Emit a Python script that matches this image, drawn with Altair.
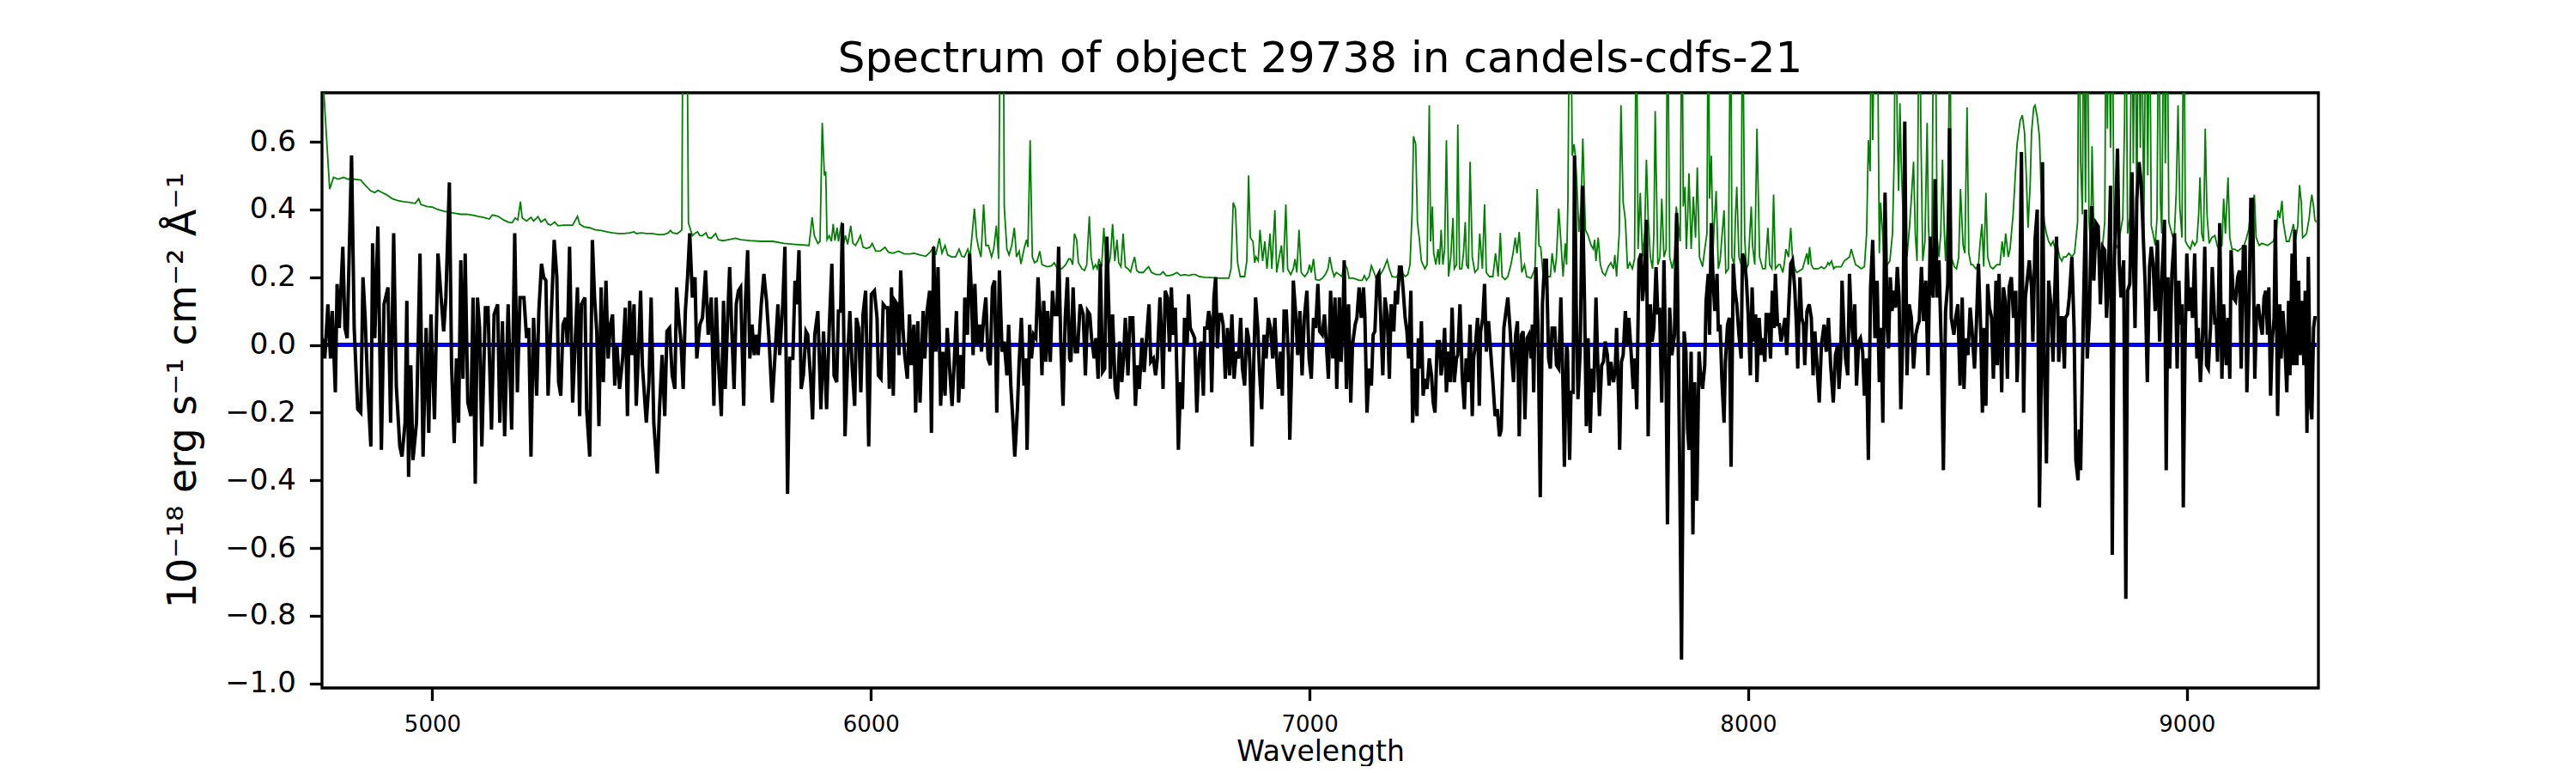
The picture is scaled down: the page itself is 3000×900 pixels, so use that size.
import altair as alt
import pandas as pd

# ---- object spectrum (black) : wavelength [A], flux [1e-18 erg/s/cm2/A] ----
obj_wave = [
 4749,4755,4762,4768,4772,4779,4783,4788,4796,4801,4806,4816,4822,4830,4837,4842,4847,4853,4860,4864,
 4869,4876,4884,4890,4899,4905,4912,4918,4926,4931,4938,4942,4946,4951,4956,4964,4972,4979,4986,4992,
 4997,5005,5013,5019,5026,5031,5039,5044,5050,5055,5060,5065,5070,5075,5081,5088,5093,5098,5103,5108,
 5113,5121,5127,5135,5141,5149,5154,5160,5165,5173,5181,5188,5194,5200,5209,5215,5220,5225,5231,5238,
 5243,5249,5254,5259,5264,5271,5278,5284,5288,5293,5298,5304,5308,5313,5320,
 5325,5331,5336,5340,5348,5352,5359,5365,5370,5375,5380,5385,5390,5396,5401,5406,5411,5416,5421,5427,
 5434,5440,5445,5450,5455,5460,5465,5470,5475,5479,5488,5494,5499,5505,5513,5518,5524,5530,5535,5541,
 5547,5553,5557,5562,5567,5572,5577,5582,5587,5593,5599,5603,5610,5616,5623,5629,5636,5642,5647,5652,
 5659,5664,5668,5674,5678,5683,5688,5693,5698,5703,5710,5714,5719,5724,5729,5734,5739,5743,5750,5756,
 5762,5768,5775,5781,5788,5792,5799,5804,5810,5815,5822,5827,5831,5836,5841,5846,5852,5856,5863,5867,
 5872,5879,5886,
 5892,5899,5905,5911,5916,5922,5926,5931,5935,5941,5947,5952,5957,5963,5967,5972,5977,5982,5988,5995,
 6001,6008,6014,6017,6023,6028,6034,6038,6042,6047,6051,6055,6060,6064,6068,6073,6077,6083,6088,6092,
 6098,6102,6107,6112,6119,6123,6128,6134,6138,6143,6148,6153,6159,6164,6169,6174,6179,6185,6190,6195,
 6200,6205,6210,6214,6220,6225,6229,6233,6237,6242,6248,6252,6257,6262,6267,6272,6277,6282,6287,6293,
 6299,6304,6310,6314,6319,6324,6328,6334,6338,6343,6349,6353,6356,6362,6366,6371,6376,6381,6386,6390,
 6394,6399,6403,6409,6414,6418,6424,6428,6433,6438,6443,6448,6453,
 6456,6461,6466,6471,6477,6484,6489,6494,6499,6503,6509,6513,6518,6523,6528,6533,6538,6543,6546,6551,
 6557,6562,6567,6572,6576,6580,6586,6591,6597,6603,6608,6612,6618,6623,6629,6634,6638,6644,6649,6653,
 6659,6663,6666,6671,6676,6681,6685,6689,6694,6698,6701,6706,6710,6715,6721,6724,6728,6735,6738,6743,
 6748,6753,6758,6761,6766,6770,6773,6777,6782,6786,6790,6794,6799,6803,6808,6813,6818,6823,6828,6833,
 6838,6843,6847,6852,6857,6861,6864,6869,6873,6877,6882,6886,6891,6896,6901,6906,6911,6916,6921,6925,
 6929,6934,6938,6942,6947,6952,6955,6960,6963,6968,6973,6978,6983,6988,6994,6999,7004,7009,7014,7019,
 7023,7029,7034,7038,7043,7048,7053,7058,7062,7068,7072,7076,7079,7084,7089,7094,7098,7104,7108,7113,
 7118,7123,7126,7131,7136,7141,7145,7149,7154,7158,7162,7167,7172,7177,7182,7186,7192,7196,7200,7205,
 7209,7213,7218,7222,7226,7231,7235,7240,7245,7248,7252,7255,7259,7263,7268,7273,7278,7282,7286,7291,
 7296,7300,7304,7308,7312,7317,7321,7325,7330,7335,7338,7343,7348,7353,7357,7361,7366,7371,7374,7379,
 7383,7387,7390,7395,7399,7403,7408,7413,7418,7423,7428,7433,7437,7443,7447,7452,7457,7461,7465,7470,
 7474,7478,7483,7487,7491,7496,7500,7505,7508,7511,7516,7521,7526,7531,7536,7540,7545,7549,7553,7559,
 7563,7568,7573,7578,7581,7586,
 7588,7593,7596,7601,7604,7608,7612,7617,7622,7627,7631,7635,7640,7644,7648,7653,7657,7661,7666,7670,
 7674,7679,7683,7687,7693,7697,7700,7705,7707,7711,7715,7720,7725,7728,7733,7738,7742,7746,7751,7756,
 7759,7764,7768,7772,7777,7781,7785,7790,7794,7798,7803,7808,7813,7816,7821,7826,7832,7837,7844,7848,
 7854,7858,7862,7865,7870,7874,7878,7883,7888,7891,7896,7901,7904,7909,7912,7916,7920,7924,7929,7932,
 7936,7940,7945,7948,7953,7957,7961,7966,7970,7974,7979,7984,7987,7992,7996,8000,8005,8009,8013,8017,
 8020,8025,8030,8033,8038,8041,8046,8051,8055,8059,8062,8067,8071,8075,8079,8084,8088,8093,8097,8101,
 8106,8110,8113,8118,8122,8126,8129,8134,8139,8144,8148,
 8152,8156,8162,8167,8173,8178,8183,8188,8194,8199,8204,8207,8211,8214,8219,8222,8227,8231,8235,8240,
 8243,8247,8252,8256,8261,8265,8270,8274,8279,8284,8289,8294,8299,8303,8307,8312,8317,8320,8324,8328,
 8332,8336,8340,8344,8348,8353,8357,8362,8367,8372,8377,8382,8387,8390,8395,8400,8405,8410,8415,8418,
 8422,8426,8431,8435,8441,8445,8450,8455,8459,8463,8469,8473,8478,8483,8488,8492,8496,8501,8506,8510,
 8516,8520,8525,8530,8534,8538,8542,8546,8550,8555,8559,8565,8568,8572,8578,8582,8586,8591,8595,8600,
 8605,8610,8613,8619,8623,8628,8632,8636,8641,8646,8649,8654,8659,8664,8668,8671,8675,8680,8685,8690,
 8695,8698,8703,8708,8713,8716,8721,
 8723,8728,8732,8738,8743,8747,8752,8755,8758,8764,8769,8773,8778,8783,8788,8793,8798,8803,8808,8813,
 8817,8821,8826,8830,8835,8842,8846,8850,8856,8861,8865,8870,8875,8878,8882,8886,8891,8896,8901,8905,
 8910,8915,8919,8923,8928,8933,8938,8943,8949,8953,8957,8961,8966,8972,8978,8982,8985,8989,8992,8996,
 9000,9005,9009,9013,9018,9023,9026,9031,9036,9041,9045,9049,9054,9058,9064,9067,9070,9075,9080,9084,
 9090,9094,9098,9101,9106,9111,9116,9120,9124,9129,9133,9137,9142,9146,9150,9155,9159,9163,9168,9172,
 9176,9180,9184,9187,9191,9195,9199,9202,9207,9212,9215,9219,9223,9228,9232,9235,9240,9243,9246,9251,
 9255,9258,9262,9267,9270,9274,9277,9282,9285,9289,9292,9296,
]
obj_flux = [
 0.02,-0.04,0.12,-0.04,0.10,-0.14,0.18,0.05,0.29,0.05,0.02,0.56,0.05,-0.19,-0.20,0.20,0.08,-0.13,-0.30,0.30,
 0.02,0.35,-0.31,0.12,0.17,-0.23,0.33,-0.12,-0.30,-0.33,-0.23,0.13,-0.39,-0.06,-0.34,-0.23,0.27,-0.33,0.05,-0.26,
 0.09,-0.22,0.27,0.16,0.04,0.14,0.48,-0.06,-0.29,-0.04,-0.23,0.25,-0.10,0.27,-0.17,-0.21,0.14,-0.41,0.14,0.05,
 -0.30,0.11,0.11,-0.25,0.09,0.12,-0.23,0.07,-0.27,0.12,-0.25,0.33,-0.14,0.14,0.14,0.02,0.05,-0.33,0.08,-0.15,
 0.10,0.24,0.20,0.19,-0.15,0.08,0.31,0.20,-0.11,-0.15,0.06,0.08,0.00,0.29,-0.17,
 -0.02,0.17,-0.21,0.12,0.14,-0.19,-0.33,0.31,0.14,0.04,-0.24,0.17,-0.11,0.19,-0.04,0.06,0.09,-0.12,0.00,-0.13,
 -0.04,0.11,-0.21,0.13,-0.03,0.12,-0.18,-0.02,0.16,-0.06,-0.23,-0.11,0.14,-0.23,-0.38,-0.19,-0.03,-0.21,0.04,0.05,
 -0.09,-0.13,0.17,0.08,0.01,-0.13,0.10,0.20,0.33,0.14,0.20,-0.04,0.06,0.08,0.22,0.03,0.14,-0.18,0.14,-0.04,
 -0.21,0.13,-0.13,0.10,0.23,0.04,-0.13,0.12,0.16,0.17,-0.18,0.13,0.28,-0.04,0.06,-0.03,0.03,-0.03,0.12,0.21,
 0.13,0.01,-0.17,-0.04,0.12,-0.03,0.12,0.29,-0.44,-0.04,-0.04,0.19,0.12,0.28,-0.13,-0.09,0.04,0.03,-0.11,-0.22,
 0.03,0.10,-0.19,
 0.04,-0.19,0.05,0.24,-0.09,-0.11,0.10,0.10,0.36,-0.27,-0.04,0.10,-0.06,-0.18,0.08,0.05,-0.14,0.09,0.16,-0.30,
 0.15,0.16,0.08,-0.09,-0.10,0.12,0.11,0.11,-0.13,0.17,-0.15,0.13,0.12,-0.03,0.22,0.05,-0.03,-0.10,0.09,-0.06,
 0.06,-0.20,0.07,-0.17,0.10,-0.04,0.10,0.16,-0.26,0.29,-0.02,0.23,-0.18,-0.02,-0.15,0.05,-0.06,-0.18,-0.05,0.10,
 -0.17,-0.03,-0.13,0.14,0.03,0.27,0.16,-0.03,0.18,0.00,0.06,-0.02,0.08,0.14,-0.04,-0.06,0.17,0.19,-0.20,0.22,
 -0.02,0.01,-0.09,0.06,-0.12,-0.23,-0.33,-0.19,-0.05,0.08,-0.12,-0.04,-0.31,0.06,-0.04,0.03,0.02,0.20,0.08,-0.09,
 0.13,-0.05,0.10,-0.05,0.16,0.09,0.09,0.29,0.00,-0.18,0.08,0.20,-0.04,
 -0.05,0.17,-0.02,-0.02,0.12,0.09,-0.09,0.10,0.09,0.02,-0.04,0.02,-0.10,0.24,-0.08,-0.07,0.32,0.08,-0.10,0.09,
 -0.13,-0.16,0.01,-0.11,-0.04,0.08,-0.09,0.08,0.08,-0.18,-0.06,-0.13,0.02,-0.08,0.03,0.12,-0.05,-0.04,-0.09,-0.04,
 0.14,0.01,-0.13,0.16,0.14,-0.02,0.17,0.03,0.11,-0.11,-0.31,-0.11,-0.19,0.08,0.00,0.15,0.05,0.03,0.02,-0.20,
 -0.04,0.01,-0.15,0.05,0.05,0.10,0.08,-0.14,0.14,0.20,-0.01,0.09,0.09,0.06,-0.10,0.05,-0.09,0.09,-0.10,-0.02,
 -0.04,0.08,-0.07,-0.12,0.05,0.02,-0.06,-0.30,-0.04,0.14,0.05,-0.08,-0.19,0.03,-0.04,0.08,0.05,-0.04,0.08,-0.04,
 -0.13,-0.02,-0.15,0.10,0.10,-0.04,-0.28,-0.04,0.19,0.10,-0.03,0.10,-0.09,0.08,0.16,-0.04,-0.10,0.08,0.05,0.18,
 0.04,0.03,0.09,0.01,-0.10,0.16,-0.04,0.14,-0.13,0.14,-0.05,0.07,0.25,-0.13,0.12,-0.17,0.00,0.06,0.08,0.17,
 0.08,0.17,0.09,-0.20,-0.07,-0.12,0.03,0.04,0.20,0.21,0.09,-0.09,0.14,0.09,-0.10,0.12,0.04,0.16,0.12,0.23,
 0.23,0.17,0.08,0.04,-0.04,0.16,-0.23,-0.07,-0.21,0.02,-0.07,0.07,-0.15,-0.10,-0.13,-0.04,-0.09,-0.17,-0.20,0.01,
 0.01,-0.09,-0.04,0.05,-0.14,-0.02,-0.11,0.11,-0.11,-0.04,-0.03,0.12,-0.09,-0.19,-0.04,-0.11,0.06,-0.21,-0.04,0.01,
 0.08,-0.18,0.04,0.08,0.18,-0.02,0.07,-0.02,-0.11,-0.21,-0.19,-0.27,-0.25,0.05,0.09,0.14,0.05,-0.04,-0.11,0.03,
 0.07,-0.27,0.03,0.04,-0.22,0.02,0.03,-0.04,0.06,-0.14,0.23,0.05,-0.45,0.12,0.25,0.25,-0.04,-0.07,0.05,0.05,
 -0.06,-0.07,0.14,-0.13,-0.36,0.00,
 -0.02,-0.34,-0.14,-0.14,0.56,0.12,-0.16,-0.02,0.47,0.12,-0.24,0.02,-0.26,-0.07,-0.14,0.14,-0.05,-0.21,-0.06,-0.05,
 0.01,-0.03,-0.12,-0.05,-0.11,-0.07,0.05,-0.17,-0.31,-0.05,-0.03,0.10,0.00,0.08,-0.02,-0.13,-0.04,-0.19,0.25,0.27,
 0.13,0.20,0.37,-0.27,0.12,0.01,0.05,0.23,0.09,0.11,-0.17,0.25,-0.12,-0.53,0.11,-0.03,0.03,0.39,-0.38,-0.93,
 0.04,-0.02,-0.25,-0.31,-0.02,-0.56,-0.11,-0.46,-0.02,-0.08,-0.13,-0.06,0.13,0.21,0.03,0.36,0.19,0.10,0.21,0.04,
 0.06,-0.10,-0.23,-0.05,0.06,0.08,-0.36,0.24,0.16,0.12,0.03,-0.04,0.27,0.25,0.19,0.09,-0.09,0.17,0.01,0.09,
 -0.11,0.08,-0.03,0.02,-0.05,0.09,0.09,-0.04,0.16,0.05,0.21,0.06,0.06,0.01,0.04,0.08,-0.03,0.13,0.24,0.25,
 0.17,0.06,-0.07,0.20,0.08,0.06,-0.06,0.10,0.12,0.08,-0.09,
 0.04,-0.04,-0.17,0.00,0.06,-0.02,0.08,-0.06,-0.17,-0.03,0.00,-0.13,-0.04,0.19,0.02,-0.04,-0.09,0.21,0.08,0.00,
 0.12,-0.12,0.01,0.02,-0.02,-0.15,-0.04,-0.34,0.17,0.31,0.02,0.19,-0.11,0.05,-0.23,0.45,0.05,-0.01,0.20,0.10,
 0.16,0.11,0.23,0.14,-0.19,0.05,0.66,-0.09,0.12,0.08,-0.07,0.03,0.06,0.07,0.23,0.07,0.19,-0.09,0.32,0.17,
 0.14,0.49,0.14,0.25,-0.04,-0.37,0.10,0.18,0.64,0.08,0.03,0.08,0.12,-0.12,0.14,-0.13,0.02,-0.03,0.11,0.05,
 -0.07,0.05,0.24,0.05,-0.20,0.05,-0.18,0.18,0.11,0.08,-0.10,0.19,-0.06,0.21,-0.14,0.17,0.13,-0.10,0.17,0.20,
 0.08,0.16,-0.11,0.11,0.57,-0.20,0.14,0.19,0.25,0.17,0.01,0.31,0.40,-0.48,-0.11,0.54,-0.03,-0.35,0.19,0.12,
 -0.05,0.12,0.32,-0.05,0.08,0.08,-0.07,
 0.08,0.09,0.14,0.26,0.05,-0.34,-0.40,-0.25,-0.37,0.08,0.40,-0.04,0.08,0.41,0.19,0.36,0.35,0.12,0.29,0.28,
 0.08,0.19,0.47,-0.62,0.25,0.58,0.24,0.14,0.25,-0.75,0.16,0.18,0.51,0.27,0.05,0.43,0.54,0.48,0.31,0.18,
 -0.11,0.23,0.29,0.24,0.10,0.31,0.01,0.19,0.37,-0.37,0.20,-0.07,0.21,0.33,-0.07,0.19,0.06,0.12,-0.48,0.00,
 0.27,0.10,0.17,0.08,0.27,-0.04,0.05,-0.11,0.03,0.29,-0.06,-0.07,0.05,0.23,0.06,0.08,-0.05,0.36,-0.10,0.12,
 -0.06,0.08,-0.10,0.28,0.14,0.13,0.20,0.22,-0.07,0.29,0.29,-0.14,0.13,0.43,0.43,-0.10,0.10,0.12,0.06,0.03,
 0.14,0.16,0.03,0.17,-0.15,0.02,0.08,0.37,-0.21,0.12,-0.04,0.10,0.02,-0.14,0.13,-0.09,0.27,-0.06,0.34,-0.06,
 0.19,-0.03,0.13,-0.06,0.16,-0.26,0.26,-0.18,-0.22,0.05,0.08,0.08,
]

# ---- sky / noise spectrum (green) ----
sky_wave = [
 4749,4753,4766,4775,4785,4798,4807,4820,4837,4847,4860,4869,4876,4886,4895,4909,4922,4935,4948,4961,
 4969,4974,4987,5000,5013,5026,5039,5052,5065,5078,5091,5104,5117,5130,5137,5150,5163,5173,5182,5189,
 5195,5201,5205,5215,5225,5231,5241,5248,5257,5264,5270,5279,5287,5300,5313,
 5320,5331,5336,5346,5359,5372,5385,5398,5411,5424,5437,5450,5460,5466,5476,5489,5502,5515,5528,5538,
 5543,5548,5558,5564,5569,5573,5578,5584,5593,5600,5605,5610,5616,5624,5629,5636,5646,5652,5662,5675,
 5691,5704,5724,5750,5776,5802,5828,5859,5866,5871,5879,5884,5889,
 5894,5897,5900,5905,5910,5914,5918,5923,5926,5933,5938,5942,5947,5954,5959,5965,5970,5976,5982,5990,
 5998,6003,6011,6021,6032,6040,6050,6063,6076,6089,6099,6112,6125,6135,6143,6148,6156,6162,6169,6175,
 6184,6193,6201,6207,6213,6221,6226,6231,6236,6241,6246,6251,6257,6262,6268,6275,6280,6286,6291,6296,
 6301,6304,6310,6315,6321,6327,6332,6338,6342,6350,6355,6358,6363,6368,6373,6379,6385,6390,6402,6412,
 6418,6425,6435,6444,6451,
 6455,6460,6464,6469,6473,6481,6487,6492,6498,6502,6507,6512,6516,6520,6526,6531,6536,6541,6546,6551,
 6556,6561,6565,6570,6575,6580,6586,6592,6596,6601,6606,6612,6621,6627,6633,6640,6650,6660,6666,6673,
 6681,6689,6698,6706,6715,6725,6732,6740,6748,6761,6774,6794,6816,6821,6826,6831,6836,6842,6852,6857,
 6861,6865,6871,6875,6878,6883,6887,6893,6898,6903,6910,6914,6921,6925,6931,6936,6940,6946,6950,6957,
 6963,6967,6971,6976,6981,6989,6996,7000,7004,7009,7014,
 7022,7029,7036,7042,7046,7051,7056,7061,7068,7074,7079,7086,7090,7100,7113,7120,7125,7130,7136,7141,
 7147,7152,7159,7169,7177,7182,7188,7198,7205,7211,7218,7224,7229,7234,7237,7242,7246,7250,7255,7263,
 7268,7273,7276,7280,7283,7288,7293,7296,7300,7304,7308,7312,7317,7322,7327,7330,7335,7338,7342,7347,
 7351,7355,7358,7362,7366,7371,7377,7384,7388,7394,7399,7403,7410,7418,7424,7430,7435,7439,7446,7452,
 7459,7464,7469,7473,7478,7484,7490,7495,7505,7514,7519,7523,7527,7532,7537,7542,7549,7553,7559,7563,
 7568,7573,7578,7583,7586,7589,7593,
 7595,7599,7603,7606,7609,7614,7619,7623,7629,7635,7642,7647,7650,7653,7658,7663,7668,7674,7681,7687,
 7693,7696,7700,7706,7710,7715,7720,7725,7730,7736,7741,7745,7749,7754,7759,7764,7768,7772,7777,7782,
 7785,7788,7794,7799,7803,7808,7813,7816,7821,7827,7832,7836,7841,7845,7849,7852,7856,7859,7862,7865,
 7870,7875,7880,7884,7889,7896,7901,7906,7909,7912,7916,7920,7923,7927,7932,7936,7940,7945,7949,7955,
 7960,7963,7968,7971,7974,7979,7984,7987,7992,7996,8000,8007,8010,8015,8020,8026,8033,8039,8045,8049,
 8054,8058,8062,8069,8073,8079,8082,8086,8092,8097,8101,8106,8111,8118,8124,8129,8134,8137,8140,8144,
 8149,
 8154,8160,8167,8173,8178,8182,8185,8190,8195,8199,8206,8212,8219,8225,8231,8235,8240,8245,8252,8258,
 8265,8270,8274,8278,8281,8284,8289,8294,8299,8302,8306,8310,8317,8323,8329,8333,8336,8340,8343,8346,
 8349,8354,8358,8362,8368,8372,8377,8381,8385,8390,8394,8398,8403,8408,8411,8415,8419,8423,8426,8431,
 8435,8439,8443,8447,8450,8456,8460,8463,8470,8475,8480,8484,8490,8494,8499,8503,8508,8512,8519,8525,
 8529,8533,8537,8542,8546,8552,8558,8567,8574,8579,8583,8587,8593,8597,8604,8608,8613,8620,8625,8630,
 8634,8638,8643,8646,8651,8654,8659,8664,8668,8672,8675,8680,8685,8690,8695,8700,8705,8710,8715,
 8719,8725,8731,8738,8744,8751,8754,8758,8762,8765,8769,8773,8777,8781,8784,8788,8793,8798,8803,8808,
 8813,8816,8819,8822,8826,8830,8834,8839,8844,8848,8854,8858,8861,8865,8870,8875,8878,8882,8886,8890,
 8894,8897,8902,8907,8911,8915,8919,8923,8928,8932,8936,8940,8943,8948,8951,8955,8959,8966,8971,8976,
 8980,8984,8989,8993,8997,9002,9008,9013,9018,9023,9027,9030,9034,9038,9042,9046,9051,9057,9064,9069,
 9073,9080,9084,9088,9094,9098,9103,9109,9116,9122,9129,9135,9141,9145,9150,9154,9158,9165,9171,9178,
 9184,9191,9197,9204,9208,9212,9217,9220,9227,9233,9240,9243,9248,9253,9257,9261,9264,9269,9273,9279,
 9282,9285,9289,9292,9296,
]
sky_flux = [
 0.85,0.74,0.46,0.495,0.49,0.495,0.49,0.49,0.487,0.472,0.455,0.45,0.457,0.45,0.444,0.432,0.426,0.423,0.421,0.418,
 0.432,0.415,0.409,0.407,0.40,0.395,0.392,0.389,0.386,0.386,0.384,0.38,0.377,0.372,0.384,0.38,0.369,0.363,0.361,0.375,
 0.369,0.423,0.375,0.366,0.377,0.366,0.379,0.363,0.372,0.357,0.354,0.363,0.352,0.354,0.354,
 0.354,0.38,0.357,0.349,0.346,0.34,0.338,0.334,0.331,0.329,0.329,0.331,0.334,0.329,0.331,0.329,0.329,0.326,0.326,0.331,
 0.338,0.331,0.329,0.334,0.34,1.5,1.5,0.36,0.323,0.331,0.334,0.323,0.323,0.331,0.317,0.315,0.329,0.311,0.308,0.311,
 0.315,0.311,0.308,0.306,0.306,0.30,0.297,0.294,0.377,0.323,0.30,0.306,0.656,
 0.50,0.513,0.311,0.323,0.306,0.357,0.308,0.346,0.306,0.363,0.30,0.323,0.297,0.352,0.30,0.294,0.306,0.323,0.289,0.285,
 0.289,0.30,0.277,0.277,0.289,0.274,0.271,0.277,0.269,0.269,0.271,0.266,0.262,0.274,0.289,0.266,0.315,0.271,0.294,0.266,
 0.26,0.26,0.283,0.262,0.26,0.283,0.26,0.329,0.403,0.317,0.283,0.26,0.415,0.294,0.294,0.26,0.283,0.352,0.254,1.3,
 1.3,0.409,0.283,0.266,0.294,0.346,0.26,0.277,0.239,0.289,0.311,0.289,0.605,0.26,0.243,0.248,0.277,0.237,0.231,0.234,
 0.243,0.225,0.225,0.237,0.254,
 0.254,0.237,0.329,0.311,0.243,0.225,0.22,0.237,0.38,0.26,0.225,0.237,0.225,0.254,0.231,0.346,0.237,0.231,0.26,0.357,
 0.248,0.311,0.243,0.231,0.329,0.231,0.225,0.216,0.237,0.26,0.22,0.214,0.214,0.223,0.231,0.214,0.208,0.208,0.216,0.205,
 0.205,0.208,0.214,0.205,0.208,0.205,0.208,0.208,0.202,0.20,0.199,0.197,0.197,0.225,0.421,0.403,0.243,0.202,0.202,0.248,
 0.501,0.317,0.306,0.243,0.26,0.248,0.34,0.248,0.306,0.225,0.329,0.225,0.398,0.214,0.26,0.294,0.214,0.415,0.225,0.208,
 0.225,0.254,0.214,0.34,0.214,0.202,0.214,0.237,0.214,0.254,0.193,
 0.191,0.197,0.208,0.225,0.26,0.225,0.202,0.214,0.208,0.202,0.243,0.225,0.197,0.197,0.191,0.191,0.205,0.191,0.202,0.234,
 0.214,0.197,0.202,0.225,0.251,0.225,0.202,0.20,0.214,0.214,0.202,0.208,0.237,0.398,0.616,0.593,0.363,0.317,0.248,0.225,
 0.237,0.708,0.306,0.409,0.271,0.237,0.283,0.237,0.34,0.237,0.283,0.605,0.202,0.26,0.375,0.225,0.237,0.651,0.225,0.225,
 0.271,0.363,0.237,0.225,0.541,0.26,0.214,0.225,0.329,0.225,0.415,0.214,0.202,0.202,0.271,0.202,0.331,0.202,0.193,0.202,
 0.237,0.271,0.317,0.271,0.334,0.214,0.237,0.202,0.197,0.225,0.461,0.294,0.289,0.214,0.237,0.202,0.202,0.271,0.214,0.26,
 0.403,0.306,0.202,0.30,0.237,0.421,1.1,
 1.1,0.559,0.593,0.559,0.49,0.334,0.409,0.61,0.34,0.323,0.294,0.283,0.311,0.248,0.317,0.237,0.214,0.205,0.231,0.243,
 0.225,0.266,0.202,0.329,0.708,0.421,0.369,0.225,0.243,0.225,0.254,1.1,0.283,0.449,0.26,0.329,0.547,0.375,0.26,0.225,
 0.329,0.691,0.237,0.26,0.432,0.26,0.283,1.1,0.26,0.225,0.26,0.409,0.352,0.306,1.1,0.409,0.467,0.283,0.375,0.507,
 0.283,0.438,0.317,0.524,0.26,0.231,0.283,0.329,1.1,0.432,0.559,0.283,0.363,0.455,0.225,0.248,0.317,0.398,0.214,0.225,
 1.1,0.26,0.237,0.38,0.467,0.26,0.237,1.1,0.317,0.225,0.237,0.409,0.294,0.237,0.639,0.26,0.225,0.225,0.346,0.237,
 0.225,0.444,0.225,0.237,0.237,0.214,0.237,0.283,0.26,0.346,0.26,0.225,0.214,0.22,0.225,0.248,0.271,0.237,0.289,0.237,
 0.225,
 0.225,0.225,0.231,0.225,0.231,0.243,0.237,0.248,0.225,0.231,0.231,0.231,0.248,0.254,0.26,0.283,0.26,0.237,0.231,0.225,
 0.231,0.329,0.605,0.513,1.1,0.605,1.1,1.1,0.271,0.421,0.34,0.237,0.237,0.248,0.329,0.559,1.1,0.628,0.455,0.714,
 0.536,0.352,0.283,0.26,0.352,0.432,0.541,0.329,0.248,1.1,0.605,0.248,0.306,0.656,0.352,0.248,0.317,1.1,1.1,0.317,
 0.26,0.329,0.547,0.34,0.248,0.421,1.1,0.26,0.231,0.225,0.26,0.461,0.294,0.271,0.702,0.271,0.237,0.237,0.225,0.237,
 0.306,0.357,0.231,0.449,0.26,0.231,0.225,0.237,0.237,0.306,0.26,0.329,0.26,0.283,0.386,0.478,0.593,0.662,0.679,0.628,
 0.501,0.346,0.478,0.628,0.702,0.708,0.674,0.616,0.455,0.415,0.363,0.329,0.306,0.294,0.306,0.283,0.294,0.26,0.248,
 0.26,0.26,0.271,0.26,0.271,0.363,1.1,0.536,0.386,1.1,0.421,1.1,0.363,0.294,0.587,0.329,0.283,0.306,0.271,0.294,
 0.363,1.1,0.639,1.1,0.582,1.1,0.329,0.294,0.283,0.329,0.375,0.651,1.1,0.329,0.375,1.1,0.536,1.1,0.386,1.1,
 0.582,1.1,0.329,1.1,0.501,1.1,0.352,0.329,0.294,0.375,1.1,0.421,0.329,1.1,0.536,1.1,0.363,0.329,0.306,0.455,
 0.708,0.409,0.317,1.1,0.306,0.294,0.283,0.306,0.294,0.306,0.386,0.495,0.329,0.306,0.639,0.386,0.30,0.317,0.323,0.294,
 0.283,0.294,0.432,0.329,0.495,0.317,0.283,0.283,0.277,0.283,0.289,0.311,0.34,0.386,0.421,0.444,0.317,0.294,0.30,0.297,
 0.294,0.30,0.306,0.329,0.398,0.375,0.426,0.363,0.306,0.306,0.34,0.357,0.311,0.352,0.472,0.421,0.317,0.323,0.329,0.375,
 0.415,0.444,0.409,0.369,0.363,
]

# ---- zero level (blue) ----
zero_wave = [4749, 9296]
zero_flux = [0.0, 0.0]

x_ticks = [5000, 6000, 7000, 8000, 9000]
y_ticks = [-1.0, -0.8, -0.6, -0.4, -0.2, 0.0, 0.2, 0.4, 0.6]
x_domain = [4748.6, 9300.0]
y_domain = [-1.0135, 0.745]

title_text = "Spectrum of object 29738 in candels-cdfs-21"
x_title = "Wavelength"
y_title = "10\u207b\u00b9\u2078 erg s\u207b\u00b9 cm\u207b\u00b2 \u00c5\u207b\u00b9"

df_obj = pd.DataFrame({"wave": obj_wave, "flux": obj_flux})
df_sky = pd.DataFrame({"wave": sky_wave, "flux": sky_flux})
df_zero = pd.DataFrame({"wave": zero_wave, "flux": zero_flux})

FONT = "DejaVu Sans"

xscale = alt.Scale(domain=x_domain, nice=False, zero=False)
yscale = alt.Scale(domain=y_domain, nice=False, zero=False)

xaxis = alt.Axis(
    values=x_ticks, format="d", title=x_title,
    labelFont=FONT, labelFontSize=26, labelColor="black",
    labelBaseline="alphabetic", labelPadding=36,
    labelFlush=False, labelOverlap=False, labelBound=False,
    tickSize=14.6, tickWidth=3.3, tickColor="black",
    domain=False, grid=False,
    titleFont=FONT, titleFontSize=33, titleFontWeight="normal", titleColor="black",
    titleBaseline="alphabetic", titleY=84, titleX=1162.5,
)
yaxis = alt.Axis(
    values=y_ticks, format=".1f", title=y_title,
    labelFont=FONT, labelFontSize=34, labelColor="black",
    labelBaseline="middle", labelPadding=16,
    labelFlush=False, labelOverlap=False, labelBound=False,
    tickSize=14.6, tickWidth=3.3, tickColor="black",
    domain=False, grid=False,
    titleFont=FONT, titleFontSize=46, titleFontWeight="normal", titleColor="black",
    titleAngle=270, titleAlign="center", titleBaseline="alphabetic",
    titleX=-148, titleY=346,
)

sky = alt.Chart(df_sky).mark_line(color="#008000", strokeWidth=1.8, clip=True).encode(
    x=alt.X("wave:Q", scale=xscale, axis=xaxis),
    y=alt.Y("flux:Q", scale=yscale, axis=yaxis),
    order="wave:Q",
)
zero = alt.Chart(df_zero).mark_line(color="#0000ff", strokeWidth=5, clip=True).encode(
    x=alt.X("wave:Q", scale=xscale),
    y=alt.Y("flux:Q", scale=yscale),
)
obj = alt.Chart(df_obj).mark_line(color="black", strokeWidth=4, clip=True).encode(
    x=alt.X("wave:Q", scale=xscale),
    y=alt.Y("flux:Q", scale=yscale),
    order="wave:Q",
)

chart = alt.layer(sky, zero, obj).properties(
    width=2325, height=693,
    background="white",
    title=alt.TitleParams(
        text=title_text, font=FONT, fontSize=50, fontWeight="normal",
        color="black", anchor="middle", baseline="alphabetic",
        frame="group", offset=25, dy=51,
    ),
    autosize=alt.AutoSizeParams(type="none"),
    padding={"left": 367, "top": 100, "right": 292, "bottom": 91},
).configure_view(
    stroke="black", strokeWidth=3.3, fill="white",
)

chart.save("out.html", embed_options={"renderer": "svg", "actions": False})
